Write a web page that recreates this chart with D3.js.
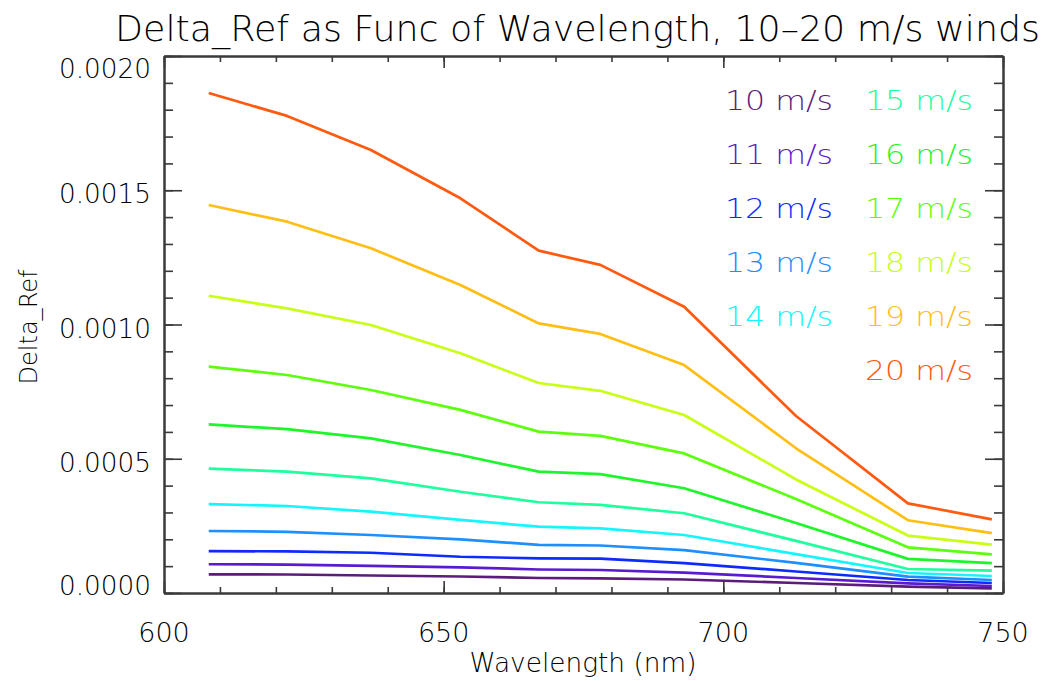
<!DOCTYPE html>
<html>
<head>
<meta charset="utf-8">
<script src="https://cdn.jsdelivr.net/npm/d3@7"></script>
<style>
  html, body { margin: 0; padding: 0; background: #fff; }
  svg { display: block; }
  text { font-family: "DejaVu Sans", "Liberation Sans", sans-serif; font-weight: 200; fill: #000; }
</style>
</head>
<body>
<svg id="chart" width="1054" height="681"></svg>
<script>
// Wavelengths (nm) at which the reflectance difference was evaluated
const wavelengths = [608, 622, 637, 653, 667, 678, 693, 713, 733, 748];

// Delta_Ref per wind speed
const wind10 = [0.0000696, 0.0000689, 0.0000652, 0.0000615, 0.0000559, 0.0000548, 0.0000503, 0.0000372, 0.0000235, 0.0000175];
const wind11 = [0.000107, 0.000106, 0.000101, 0.0000957, 0.0000875, 0.0000857, 0.0000756, 0.0000559, 0.0000361, 0.0000261];
const wind12 = [0.000156, 0.000155, 0.000150, 0.000135, 0.000129, 0.000128, 0.000111, 0.0000801, 0.0000484, 0.0000372];
const wind13 = [0.000231, 0.000228, 0.000216, 0.000200, 0.000179, 0.000177, 0.000160, 0.000112, 0.0000607, 0.0000484];
const wind14 = [0.000331, 0.000324, 0.000303, 0.000272, 0.000247, 0.000241, 0.000216, 0.000145, 0.0000745, 0.0000633];
const wind15 = [0.000463, 0.000452, 0.000427, 0.000377, 0.000338, 0.000328, 0.000297, 0.000194, 0.0000894, 0.0000831];
const wind16 = [0.000628, 0.000610, 0.000576, 0.000514, 0.000452, 0.000443, 0.000390, 0.000261, 0.000127, 0.000111];
const wind17 = [0.000843, 0.000812, 0.000756, 0.000682, 0.000601, 0.000585, 0.000520, 0.000350, 0.000170, 0.000144];
const wind18 = [0.001107, 0.001060, 0.000998, 0.000893, 0.000782, 0.000753, 0.000663, 0.000423, 0.000214, 0.000180];
const wind19 = [0.001445, 0.001383, 0.001284, 0.001147, 0.001004, 0.000965, 0.000849, 0.000539, 0.000271, 0.000223];
const wind20 = [0.001862, 0.001777, 0.001650, 0.001470, 0.001275, 0.001222, 0.001066, 0.000659, 0.000334, 0.000274];

const windLabels = ["10 m/s", "11 m/s", "12 m/s", "13 m/s", "14 m/s", "15 m/s", "16 m/s", "17 m/s", "18 m/s", "19 m/s", "20 m/s"];
const windColors = ["#5b1c7a", "#5a1bd0", "#0d2bff", "#1e8fff", "#16f5ff", "#1eff9e", "#1ef52a", "#5cff0e", "#c8ff14", "#ffbe14", "#ff5a10"];
const windSeries = [wind10, wind11, wind12, wind13, wind14, wind15, wind16, wind17, wind18, wind19, wind20];

const xTickValues = [600, 650, 700, 750];
const yTickValues = [0.0000, 0.0005, 0.0010, 0.0015, 0.0020];

const titleText = "Delta_Ref as Func of Wavelength, 10\u201320 m/s winds";
const xTitle = "Wavelength (nm)";
const yTitle = "Delta_Ref";

// Plot frame
const margin = { left: 164, right: 1003, top: 56, bottom: 593 };
const svg = d3.select("#chart");
const axisColor = "#3a3a3a";

const x = d3.scaleLinear().domain([600, 750]).range([margin.left, margin.right]);
const y = d3.scaleLinear().domain([0, 0.002]).range([margin.bottom, margin.top]);

// Series lines
const line = d3.line()
  .x((d, i) => x(wavelengths[i]))
  .y(d => y(d));

svg.append("g")
  .selectAll("path")
  .data(windSeries)
  .join("path")
  .attr("d", line)
  .attr("fill", "none")
  .attr("stroke", (d, i) => windColors[i])
  .attr("stroke-width", 2.7)
  .attr("stroke-linejoin", "round");

// Axes on all four sides, ticks pointing inward
const xMinor = d3.range(600, 751, 10);
const yMinor = d3.range(0, 0.00201, 0.0001);

function addAxis(axis, transform) {
  const g = svg.append("g").attr("transform", transform).call(axis);
  g.selectAll("path.domain").attr("stroke", axisColor).attr("stroke-width", 2);
  g.selectAll(".tick line").attr("stroke", axisColor).attr("stroke-width", 1.6);
  g.selectAll(".tick text").remove();
  return g;
}

// minor ticks
addAxis(d3.axisBottom(x).tickValues(xMinor).tickSizeInner(-6).tickSizeOuter(0), `translate(0,${margin.bottom})`);
addAxis(d3.axisTop(x).tickValues(xMinor).tickSizeInner(-6).tickSizeOuter(0), `translate(0,${margin.top})`);
addAxis(d3.axisLeft(y).tickValues(yMinor).tickSizeInner(-9).tickSizeOuter(0), `translate(${margin.left},0)`);
addAxis(d3.axisRight(y).tickValues(yMinor).tickSizeInner(-9).tickSizeOuter(0), `translate(${margin.right},0)`);
// major ticks
addAxis(d3.axisBottom(x).tickValues(xTickValues).tickSizeInner(-12).tickSizeOuter(0), `translate(0,${margin.bottom})`);
addAxis(d3.axisTop(x).tickValues(xTickValues).tickSizeInner(-12).tickSizeOuter(0), `translate(0,${margin.top})`);
addAxis(d3.axisLeft(y).tickValues(yTickValues).tickSizeInner(-18).tickSizeOuter(0), `translate(${margin.left},0)`);
addAxis(d3.axisRight(y).tickValues(yTickValues).tickSizeInner(-18).tickSizeOuter(0), `translate(${margin.right},0)`);

// X tick labels
svg.append("g")
  .selectAll("text")
  .data(xTickValues)
  .join("text")
  .attr("x", d => x(d))
  .attr("y", 642)
  .attr("text-anchor", "middle")
  .attr("font-size", 27)
  .text(d => d3.format("d")(d));

// Y tick labels (end labels kept inside the frame)
svg.append("g")
  .selectAll("text")
  .data(yTickValues)
  .join("text")
  .attr("x", 151)
  .attr("y", d => Math.max(margin.top + 12, Math.min(margin.bottom - 8, y(d) + 3)) + 10)
  .attr("text-anchor", "end")
  .attr("font-size", 27)
  .attr("textLength", 92)
  .attr("lengthAdjust", "spacingAndGlyphs")
  .text(d => d3.format(".4f")(d));

// Title
svg.append("text")
  .attr("x", 577.5)
  .attr("y", 41)
  .attr("text-anchor", "middle")
  .attr("font-size", 35)
  .attr("textLength", 925)
  .attr("lengthAdjust", "spacingAndGlyphs")
  .text(titleText);

// Axis titles
svg.append("text")
  .attr("x", 583)
  .attr("y", 672)
  .attr("text-anchor", "middle")
  .attr("font-size", 26)
  .attr("textLength", 227)
  .attr("lengthAdjust", "spacingAndGlyphs")
  .text(xTitle);

svg.append("text")
  .attr("transform", "translate(37,327) rotate(-90)")
  .attr("text-anchor", "middle")
  .attr("font-size", 25)
  .attr("textLength", 115)
  .attr("lengthAdjust", "spacingAndGlyphs")
  .text(yTitle);

// Legend: two columns of coloured labels
const legendCols = [725, 865];
const legendTop = 100;
const legendStep = 54;
svg.append("g")
  .selectAll("text")
  .data(windLabels)
  .join("text")
  .attr("x", (d, i) => legendCols[i < 5 ? 0 : 1])
  .attr("y", (d, i) => legendTop + (i < 5 ? i : i - 5) * legendStep + 10)
  .attr("font-size", 27)
  .attr("textLength", 108)
  .attr("lengthAdjust", "spacingAndGlyphs")
  .style("fill", (d, i) => windColors[i])
  .text(d => d);
</script>
</body>
</html>
